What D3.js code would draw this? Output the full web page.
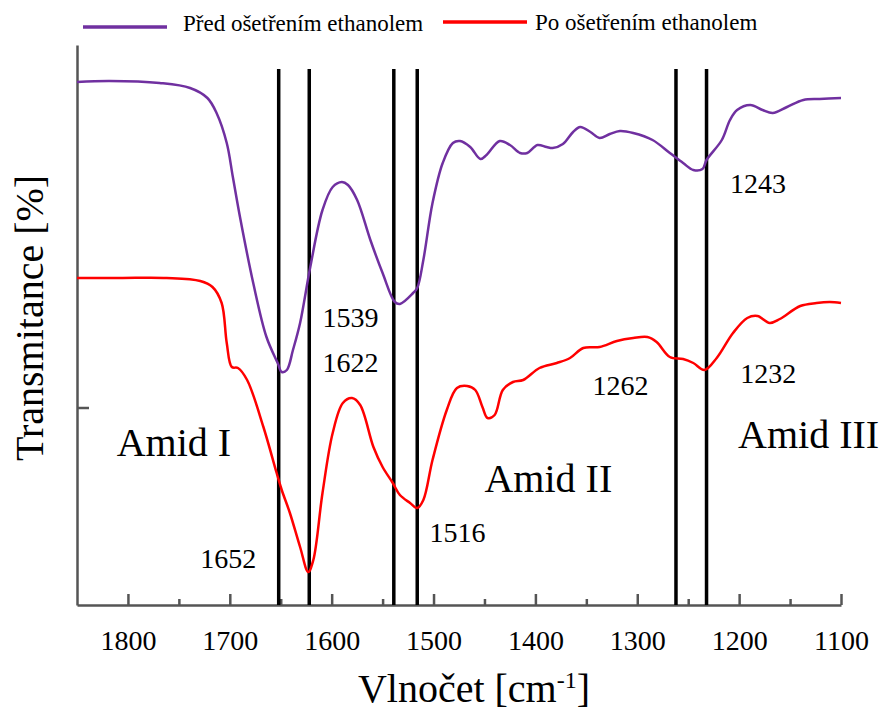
<!DOCTYPE html>
<html>
<head>
<meta charset="utf-8">
<script src="https://cdn.jsdelivr.net/npm/d3@7"></script>
<style>
  body { margin: 0; background: #fff; }
  svg { display: block; font-family: "Liberation Serif", "Times New Roman", serif; }
</style>
</head>
<body>
<script>
const width = 883;
const height = 711;

// wavenumber [cm-1] and transmittance (arbitrary units)
const beforeWave = [1850, 1818, 1769, 1739, 1722, 1713, 1703, 1697, 1690, 1677, 1664, 1653, 1649, 1644, 1638, 1631, 1621, 1609, 1599, 1590, 1584, 1575, 1562, 1550, 1538, 1533, 1520, 1516, 1510, 1501, 1491, 1481, 1474, 1464, 1454, 1448, 1435, 1425, 1415, 1408, 1398, 1389, 1383, 1373, 1363, 1356, 1346, 1337, 1327, 1317, 1304, 1285, 1268, 1255, 1245, 1236, 1232, 1217, 1209, 1202, 1189, 1177, 1167, 1153, 1137, 1121, 1100];
const beforeT = [104.6, 104.8, 104.4, 103.4, 101.4, 98.4, 92.4, 85.6, 77.6, 64.4, 53.6, 48.4, 46.6, 47, 51, 56.4, 67.6, 79, 83.6, 84.6, 84, 81, 73, 66.4, 60.6, 60.2, 62.4, 63.4, 69, 80.4, 88.4, 92.4, 92.8, 91.6, 89.2, 90, 92.8, 92, 90.4, 90.4, 92, 91.6, 91.4, 92.2, 94.6, 95.6, 94.6, 93.4, 94.2, 94.8, 94.4, 93, 90.4, 88.4, 87, 87.2, 89, 93, 97, 99, 100, 99, 98.4, 99.6, 101, 101.2, 101.4];

const afterWave = [1850, 1808, 1762, 1729, 1717, 1708, 1703, 1698, 1692, 1683, 1667, 1654, 1649, 1641, 1631, 1623, 1618, 1609, 1599, 1589, 1580, 1572, 1559, 1550, 1540, 1533, 1523, 1516, 1510, 1501, 1487, 1477, 1467, 1459, 1452, 1447, 1440, 1432, 1422, 1412, 1396, 1379, 1366, 1353, 1337, 1320, 1304, 1290, 1281, 1268, 1255, 1245, 1234, 1222, 1206, 1192, 1182, 1170, 1160, 1140, 1124, 1111, 1100];
const afterT = [65.4, 65.4, 65.4, 64.8, 63.6, 60.4, 52.4, 47.6, 47.4, 45, 35.6, 26.4, 23, 18.4, 11.6, 6.6, 9, 22.4, 34.4, 40.4, 41.4, 40, 31.6, 27.6, 24.4, 22, 20.4, 19.4, 21, 29, 39, 43.4, 43.8, 43, 39.6, 37.4, 38, 43, 44.6, 45, 47.4, 48.4, 49.4, 51.4, 51.6, 52.8, 53.4, 53.6, 52.6, 49.6, 49.2, 48.4, 47, 49.4, 54.4, 57.4, 57.8, 56.4, 57.2, 59.8, 60.4, 60.6, 60.4];

const peakLines = [1652, 1622, 1539, 1516, 1262, 1232];
const majorTicks = [1800, 1700, 1600, 1500, 1400, 1300, 1200, 1100];
const minorTicks = [1750, 1650, 1550, 1450, 1350, 1250, 1150];

// annotation text, wavenumber of its start, transmittance of its baseline
const peakLabels = ["1539", "1622", "1652", "1516", "1262", "1232", "1243"];
const peakLabelWave = [1609, 1609, 1729, 1504, 1344, 1199, 1209];
const peakLabelT = [55.6, 46.6, 7.4, 12.6, 42, 44.4, 82.4];

const bandLabels = ["Amid I", "Amid II", "Amid III"];
const bandLabelWave = [1811, 1450, 1201];
const bandLabelT = [29.8, 22.6, 31.4];

const seriesNames = ["Před ošetřením ethanolem", "Po ošetřením ethanolem"];
const seriesColors = ["#7030a0", "#ff0000"];

const serif = "'Liberation Serif', 'Times New Roman', serif";

const x = d3.scaleLinear().domain([1850, 1100]).range([77, 841]);
const y = d3.scaleLinear().domain([0, 112]).range([605, 45]);

const svg = d3.select("body").append("svg")
  .attr("width", width)
  .attr("height", height);

// axes
const xAxis = svg.append("g")
  .attr("transform", `translate(0, ${y(0)})`)
  .call(d3.axisBottom(x).tickValues(majorTicks).tickFormat(d3.format("d"))
    .tickSizeInner(-11).tickSizeOuter(0).tickPadding(25));
xAxis.attr("font-family", serif);
xAxis.selectAll("text").style("font-size", "28px").attr("fill", "#000");

const xMinor = svg.append("g")
  .attr("transform", `translate(0, ${y(0)})`)
  .call(d3.axisBottom(x).tickValues(minorTicks).tickFormat("")
    .tickSizeInner(-6).tickSizeOuter(0));
xMinor.select(".domain").remove();

svg.append("g")
  .attr("transform", `translate(${x(1850)}, 0)`)
  .call(d3.axisLeft(y).tickValues([39.5]).tickFormat("")
    .tickSizeInner(-12).tickSizeOuter(0));

svg.selectAll(".domain").attr("stroke", "#555").attr("stroke-width", 2.5);
svg.selectAll(".tick line").attr("stroke", "#555").attr("stroke-width", 2.5);

// peak marker lines
svg.append("g")
  .selectAll("line")
  .data(peakLines)
  .join("line")
  .attr("x1", (d) => x(d))
  .attr("x2", (d) => x(d))
  .attr("y1", y(107.2))
  .attr("y2", y(0))
  .attr("stroke", "#000")
  .attr("stroke-width", 3.5);

// spectra
const line = d3.line()
  .x((d) => x(d[0]))
  .y((d) => y(d[1]))
  .curve(d3.curveCatmullRom);

const spectra = [
  d3.zip(beforeWave, beforeT),
  d3.zip(afterWave, afterT)
];

svg.append("g")
  .selectAll("path")
  .data(spectra)
  .join("path")
  .attr("d", line)
  .attr("fill", "none")
  .attr("stroke", (d, i) => seriesColors[i])
  .attr("stroke-width", 2.5)
  .attr("stroke-linejoin", "round");

// annotations
svg.append("g")
  .selectAll("text")
  .data(peakLabels)
  .join("text")
  .attr("x", (d, i) => x(peakLabelWave[i]))
  .attr("y", (d, i) => y(peakLabelT[i]))
  .attr("font-family", serif)
  .style("font-size", "28px")
  .text((d) => d);

svg.append("g")
  .selectAll("text")
  .data(bandLabels)
  .join("text")
  .attr("x", (d, i) => x(bandLabelWave[i]))
  .attr("y", (d, i) => y(bandLabelT[i]))
  .attr("font-family", serif)
  .style("font-size", "40px")
  .text((d) => d);

// legend
const legendX = [83, 443];
const legendLineY = [27, 22];
const legend = svg.append("g")
  .selectAll("g")
  .data(seriesNames)
  .join("g");
legend.append("line")
  .attr("x1", (d, i) => legendX[i])
  .attr("x2", (d, i) => legendX[i] + 84)
  .attr("y1", (d, i) => legendLineY[i])
  .attr("y2", (d, i) => legendLineY[i])
  .attr("stroke", (d, i) => seriesColors[i])
  .attr("stroke-width", 3.5);
legend.append("text")
  .attr("x", (d, i) => legendX[i] + 100 - i * 8)
  .attr("y", (d, i) => 31 - i)
  .attr("font-family", serif)
  .style("font-size", "23px")
  .text((d) => d);

// axis titles
svg.append("text")
  .attr("transform", "translate(43, 318) rotate(-90)")
  .attr("text-anchor", "middle")
  .attr("font-family", serif)
  .style("font-size", "40px")
  .text("Transmitance [%]");

const xTitle = svg.append("text")
  .attr("x", 474)
  .attr("y", 702)
  .attr("text-anchor", "middle")
  .attr("font-family", serif)
  .style("font-size", "40px");
xTitle.append("tspan").text("Vlnočet [cm");
xTitle.append("tspan").attr("dy", -14).style("font-size", "24px").text("-1");
xTitle.append("tspan").attr("dy", 14).text("]");
</script>
</body>
</html>
